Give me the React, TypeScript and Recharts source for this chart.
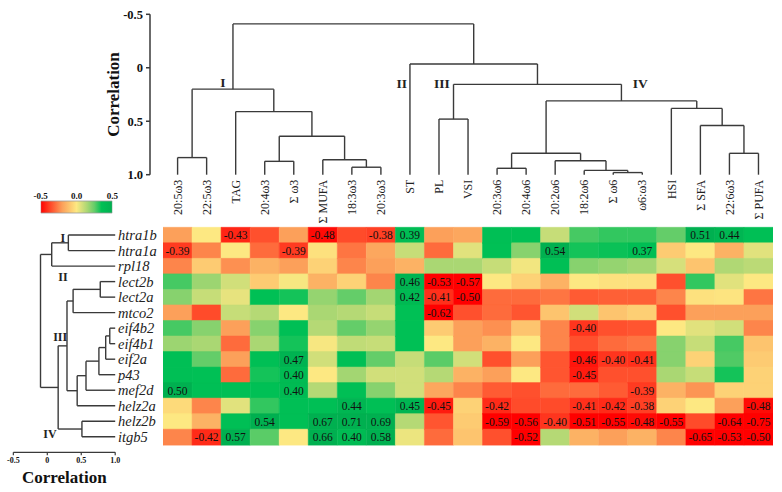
import React from 'react';
import {
  BarChart, Bar, Cell, XAxis, YAxis, LabelList, ScatterChart, Scatter, ReferenceLine,
} from 'recharts';

// ---------- categories ----------
const columns = ['20:5ω3', '22:5ω3', 'TAG', '20:4ω3', 'Σ ω3', 'Σ MUFA', '18:3ω3', '20:3ω3', 'ST', 'PL', 'VSI',
  '20:3ω6', '20:4ω6', '20:2ω6', '18:2ω6', 'Σ ω6', 'ω6:ω3', 'HSI', 'Σ SFA', '22:6ω3', 'Σ PUFA'];
const genes = ['htra1b', 'htra1a', 'rpl18', 'lect2b', 'lect2a', 'mtco2', 'eif4b2', 'eif4b1', 'eif2a', 'p43',
  'mef2d', 'helz2a', 'helz2b', 'itgb5'];

// ---------- correlation values (one array per gene, columns in order above) ----------
const htra1b = [-0.2, 0.0, -0.43, -0.35, -0.2, -0.48, -0.36, -0.38, 0.39, -0.2, -0.18, 0.36, 0.36, 0.1, 0.28, 0.3, 0.3, 0.25, 0.51, 0.44, 0.36];
const htra1a = [-0.39, -0.25, 0.0, -0.3, -0.39, -0.02, -0.28, -0.18, 0.1, -0.3, 0.05, 0.35, 0.2, 0.54, 0.33, 0.34, 0.37, -0.08, 0.0, -0.15, 0.05];
const rpl18 = [-0.25, -0.08, -0.23, -0.15, -0.2, -0.06, -0.25, -0.2, -0.15, 0.15, 0.15, 0.1, 0.02, 0.36, 0.2, 0.18, 0.16, 0.07, -0.1, 0.14, 0.12];
const lect2b = [0.28, 0.17, 0.08, -0.08, 0.01, -0.15, -0.06, -0.25, 0.46, -0.53, -0.57, 0.0, -0.06, -0.15, 0.0, -0.02, -0.02, -0.35, 0.3, 0.05, 0.0];
const lect2a = [0.2, 0.1, 0.04, 0.35, 0.33, 0.18, 0.25, 0.16, 0.42, -0.41, -0.5, -0.3, -0.3, -0.28, -0.33, -0.32, -0.32, -0.25, -0.02, -0.01, -0.28];
const mtco2 = [-0.2, -0.36, 0.1, 0.13, 0.0, 0.15, 0.13, 0.1, 0.35, -0.62, -0.35, -0.3, -0.34, -0.1, 0.08, -0.1, -0.07, -0.35, -0.2, -0.2, -0.2];
const eif4b2 = [0.28, 0.2, -0.2, 0.2, 0.36, 0.13, 0.25, 0.18, 0.35, -0.08, -0.2, -0.23, -0.1, -0.25, -0.4, -0.35, -0.34, 0.0, 0.05, 0.08, -0.25];
const eif4b1 = [0.17, 0.15, -0.3, 0.15, 0.33, 0.01, 0.11, 0.1, 0.35, 0.0, -0.2, -0.15, 0.0, -0.25, -0.35, -0.3, -0.28, 0.2, 0.1, 0.28, -0.1];
const eif2a = [0.36, 0.25, -0.2, 0.36, 0.47, 0.08, 0.36, 0.25, 0.1, 0.26, 0.08, -0.35, -0.2, -0.34, -0.46, -0.4, -0.41, 0.2, -0.06, 0.27, -0.08];
const p43 = [0.36, 0.35, -0.3, 0.33, 0.4, 0.0, 0.16, 0.08, 0.08, 0.13, -0.15, -0.2, 0.0, -0.34, -0.45, -0.35, -0.35, 0.15, 0.1, 0.33, -0.06];
const mef2d = [0.5, 0.36, 0.36, 0.35, 0.4, 0.13, 0.36, 0.2, 0.08, -0.18, -0.25, -0.33, -0.35, -0.3, -0.3, -0.33, -0.39, -0.15, -0.22, -0.06, -0.06];
const helz2a = [-0.04, -0.25, 0.05, 0.3, 0.36, 0.36, 0.44, 0.36, 0.45, -0.45, -0.06, -0.42, -0.36, -0.36, -0.41, -0.42, -0.38, -0.06, 0.0, -0.2, -0.48];
const helz2b = [0.0, -0.15, 0.36, 0.54, 0.36, 0.67, 0.71, 0.69, 0.13, -0.34, -0.08, -0.59, -0.56, -0.4, -0.51, -0.55, -0.48, -0.55, -0.36, -0.64, -0.75];
const itgb5 = [-0.25, -0.42, 0.57, 0.26, 0.0, 0.66, 0.4, 0.58, 0.03, -0.3, -0.1, -0.35, -0.52, 0.13, -0.15, -0.2, -0.15, -0.25, -0.65, -0.53, -0.5];
const heatValues = [htra1b, htra1a, rpl18, lect2b, lect2a, mtco2, eif4b2, eif4b1, eif2a, p43, mef2d, helz2a, helz2b, itgb5];
const SIG = 0.37;

// ---------- dendrograms: [childA, childB, merge height] (leaves first, new nodes appended) ----------
const colLinkage: [number, number, number][] = [
  [0, 1, 0.84], [3, 4, 0.875], [6, 7, 0.93], [5, 23, 0.86], [22, 24, 0.64], [2, 25, 0.41], [21, 26, 0.2],
  [9, 10, 0.48], [11, 12, 0.94], [15, 16, 0.98], [14, 30, 0.96], [13, 31, 0.87], [29, 32, 0.8],
  [19, 20, 0.8], [18, 34, 0.54], [17, 35, 0.38], [33, 36, 0.31], [28, 37, 0.155], [8, 38, -0.035], [27, 39, -0.41],
];
const rowLinkage: [number, number, number][] = [
  [0, 1, 0.31], [14, 2, 0.065], [3, 4, 0.78], [16, 5, 0.38], [6, 7, 0.92], [18, 8, 0.86], [19, 9, 0.76],
  [20, 10, 0.57], [21, 11, 0.44], [17, 22, 0.29], [12, 13, 0.51], [23, 24, 0.16], [15, 25, -0.1],
];
const colClusterNames = ['I', 'II', 'III', 'IV'];
const colClusterX = [1.56, 7.72, 9.1, 15.93];
const colClusterY = [0.14, 0.15, 0.15, 0.15];
const rowClusterNames = ['I', 'II', 'III', 'IV'];
const rowClusterX = [0.23, 0.23, 0.19, 0.04];
const rowClusterY = [0.19, 2.7, 6.6, 12.8];
const corrTicks = [-0.5, 0, 0.5, 1];
const scaleTicks = [-0.5, 0, 0.5];

// ---------- styles ----------
const FONT = "'Liberation Serif', 'Times New Roman', serif";
const LINE = '#3a3a3a';
const colorStops: [number, number[]][] = [
  [-0.5, [255, 0, 0]], [-0.35, [255, 80, 45]], [-0.2, [252, 160, 90]], [0, [253, 232, 130]],
  [0.15, [170, 215, 115]], [0.25, [100, 205, 105]], [0.35, [0, 192, 85]], [0.5, [0, 176, 80]],
];
function colorFor(v: number) {
  if (v <= colorStops[0][0]) return `rgb(${colorStops[0][1].join(',')})`;
  for (let i = 1; i < colorStops.length; i++) {
    const [v1, c1] = colorStops[i];
    const [v0, c0] = colorStops[i - 1];
    if (v <= v1) {
      const t = (v - v0) / (v1 - v0);
      const c = c0.map((a, k) => Math.round(a + (c1[k] - a) * t));
      return `rgb(${c.join(',')})`;
    }
  }
  return `rgb(${colorStops[colorStops.length - 1][1].join(',')})`;
}

function dendroSegments(linkage: [number, number, number][], nLeaves: number, leafH: number) {
  const pos: number[] = Array.from({ length: nLeaves }, (_, i) => i);
  const h: number[] = Array(nLeaves).fill(leafH);
  const segs: { p: number; h: number }[][] = [];
  linkage.forEach(([a, b, hh]) => {
    segs.push([{ p: pos[a], h: h[a] }, { p: pos[a], h: hh }]);
    segs.push([{ p: pos[b], h: h[b] }, { p: pos[b], h: hh }]);
    segs.push([{ p: pos[a], h: hh }, { p: pos[b], h: hh }]);
    pos.push((pos[a] + pos[b]) / 2);
    h.push(hh);
  });
  return segs;
}

const heatRows = genes.map((g, i) => {
  const row: any = { gene: g };
  columns.forEach((_, j) => { row['o' + j] = 1; row['v' + j] = heatValues[i][j]; });
  return row;
});
const colSegs = dendroSegments(colLinkage, columns.length, 1);
const rowSegs = dendroSegments(rowLinkage, genes.length, 1);
const colLabelData = colClusterNames.map((t, i) => ({ x: colClusterX[i], y: colClusterY[i], text: t }));
const rowLabelData = rowClusterNames.map((t, i) => ({ x: rowClusterX[i], y: rowClusterY[i], text: t }));
const colTickIdx = columns.map((_, i) => i);
const fmtCorr = (v: number) => (v === 0 ? '0' : v === 1 ? '1.0' : String(v));

const ColTick = (props: any) => {
  const { x, y, payload } = props;
  return (
    <text x={x} y={y} transform={`rotate(-90 ${x} ${y})`} textAnchor="end" dy="0.35em"
      fontSize={12} fontFamily={FONT} fill="#222">{columns[payload.value]}</text>
  );
};
const RowTick = (props: any) => {
  const { x, y, payload } = props;
  return (
    <text x={x} y={y} textAnchor="start" dy="0.35em" fontSize={14.5} fontStyle="italic"
      fontFamily={FONT} fill="#222">{payload.value}</text>
  );
};
const Roman = (size: number) => (props: any) => (
  <text x={props.cx} y={props.cy} textAnchor="middle" dominantBaseline="central" fontSize={size}
    fontWeight="bold" fontFamily={FONT} fill="#222">{props.payload.text}</text>
);
const CellLabel = (props: any) => {
  const { x, y, width, height, value } = props;
  if (value == null || Math.abs(value) < SIG) return null;
  return (
    <text x={x + width / 2} y={y + height / 2} textAnchor="middle" dominantBaseline="central"
      fontSize={11.5} fontFamily={FONT} fill="#111">{Number(value).toFixed(2)}</text>
  );
};

const layer: React.CSSProperties = { position: 'absolute', left: 0, top: 0 };
const W = 782;
const H = 492;

export default function App() {
  return (
    <div style={{ position: 'absolute', left: 0, top: 0, width: W, height: H, background: '#fff', fontFamily: FONT }}>
      {/* heatmap */}
      <div style={layer}>
        <BarChart width={W} height={H} data={heatRows} layout="vertical" barCategoryGap={0} barGap={0}
          margin={{ top: 227.3, right: 9, bottom: 47.3, left: 117 }}>
          <XAxis type="number" domain={[0, columns.length]} hide allowDataOverflow />
          <YAxis type="category" dataKey="gene" width={46} axisLine={false} tickLine={false}
            tickSize={0} tickMargin={45} tick={<RowTick />} interval={0} />
          {columns.map((_, j) => (
            <Bar key={j} dataKey={'o' + j} stackId="s" isAnimationActive={false}>
              {heatRows.map((r, i) => (
                <Cell key={i} fill={colorFor(r['v' + j])} stroke={colorFor(r['v' + j])} strokeWidth={0.5} />
              ))}
              <LabelList dataKey={'v' + j} content={<CellLabel />} />
            </Bar>
          ))}
        </BarChart>
      </div>

      {/* top (column) dendrogram */}
      <div style={layer}>
        <ScatterChart width={W} height={H} margin={{ top: 14.3, right: 9, bottom: 267.3, left: 75 }}>
          <XAxis type="number" dataKey="x" domain={[-0.95, 20.5]} ticks={colTickIdx} interval={0}
            axisLine={false} tickLine={false} tickSize={0} tickMargin={5} height={50} tick={<ColTick />} allowDataOverflow />
          <YAxis type="number" dataKey="y" domain={[-0.5, 1]} reversed ticks={corrTicks} width={75} allowDataOverflow
            tickFormatter={fmtCorr} tickSize={4} tickMargin={3}
            axisLine={{ stroke: LINE, strokeWidth: 1.5 }} tickLine={{ stroke: LINE, strokeWidth: 1.5 }}
            tick={{ fontSize: 12.5, fontWeight: 'bold', fill: '#111', fontFamily: FONT }}
            label={{ value: 'Correlation', angle: -90, position: 'center', style: { fontSize: 17, fontWeight: 'bold', fill: '#111', fontFamily: FONT } }} />
          {colSegs.map((s, k) => (
            <ReferenceLine key={k} segment={[{ x: s[0].p, y: s[0].h }, { x: s[1].p, y: s[1].h }]}
              stroke={LINE} strokeWidth={1.4} ifOverflow="visible" />
          ))}
          <Scatter data={colLabelData} shape={Roman(13.5)} isAnimationActive={false} />
        </ScatterChart>
      </div>

      {/* left (row) dendrogram */}
      <div style={layer}>
        <ScatterChart width={W} height={H} margin={{ top: 227.3, right: 666.8, bottom: 0, left: 13.35 }}>
          <XAxis type="number" dataKey="x" domain={[-0.5, 1]} ticks={corrTicks} height={39.7} allowDataOverflow
            tickFormatter={fmtCorr} tickSize={3} tickMargin={2}
            axisLine={{ stroke: LINE, strokeWidth: 1.2 }} tickLine={{ stroke: LINE, strokeWidth: 1.2 }}
            tick={{ fontSize: 8, fontWeight: 'bold', fill: '#111', fontFamily: FONT }}
            label={{ value: 'Correlation', position: 'insideBottom', offset: 9.5, style: { fontSize: 17, fontWeight: 'bold', fill: '#111', fontFamily: FONT } }} />
          <YAxis type="number" dataKey="y" domain={[-0.5, 14]} reversed hide allowDataOverflow />
          {rowSegs.map((s, k) => (
            <ReferenceLine key={k} segment={[{ x: s[0].h, y: s[0].p }, { x: s[1].h, y: s[1].p }]}
              stroke={LINE} strokeWidth={1.4} ifOverflow="visible" />
          ))}
          <Scatter data={rowLabelData} shape={Roman(12)} isAnimationActive={false} />
        </ScatterChart>
      </div>

      {/* colour scale */}
      <div style={layer}>
        <BarChart width={W} height={H} layout="vertical" data={[{ name: 'scale', range: [-0.5, 0.5] }]}
          barCategoryGap={0} margin={{ top: 181, right: 669.7, bottom: 279.3, left: 40.7 }}>
          <defs>
            <linearGradient id="cbGrad" x1="0" y1="0" x2="1" y2="0">
              {colorStops.map(([v, c], k) => (
                <stop key={k} offset={`${(v + 0.5) * 100}%`} stopColor={`rgb(${c.join(',')})`} />
              ))}
            </linearGradient>
          </defs>
          <XAxis type="number" orientation="top" domain={[-0.5, 0.5]} ticks={scaleTicks} height={20} allowDataOverflow
            axisLine={false} tickLine={false} tickSize={0} tickMargin={2} tickFormatter={(v: number) => v.toFixed(1)}
            tick={{ fontSize: 9, fontWeight: 'bold', fill: '#111', fontFamily: FONT }} />
          <YAxis type="category" dataKey="name" hide />
          <Bar dataKey="range" fill="url(#cbGrad)" stroke="#999" strokeWidth={0.8} isAnimationActive={false} />
        </BarChart>
      </div>
    </div>
  );
}
